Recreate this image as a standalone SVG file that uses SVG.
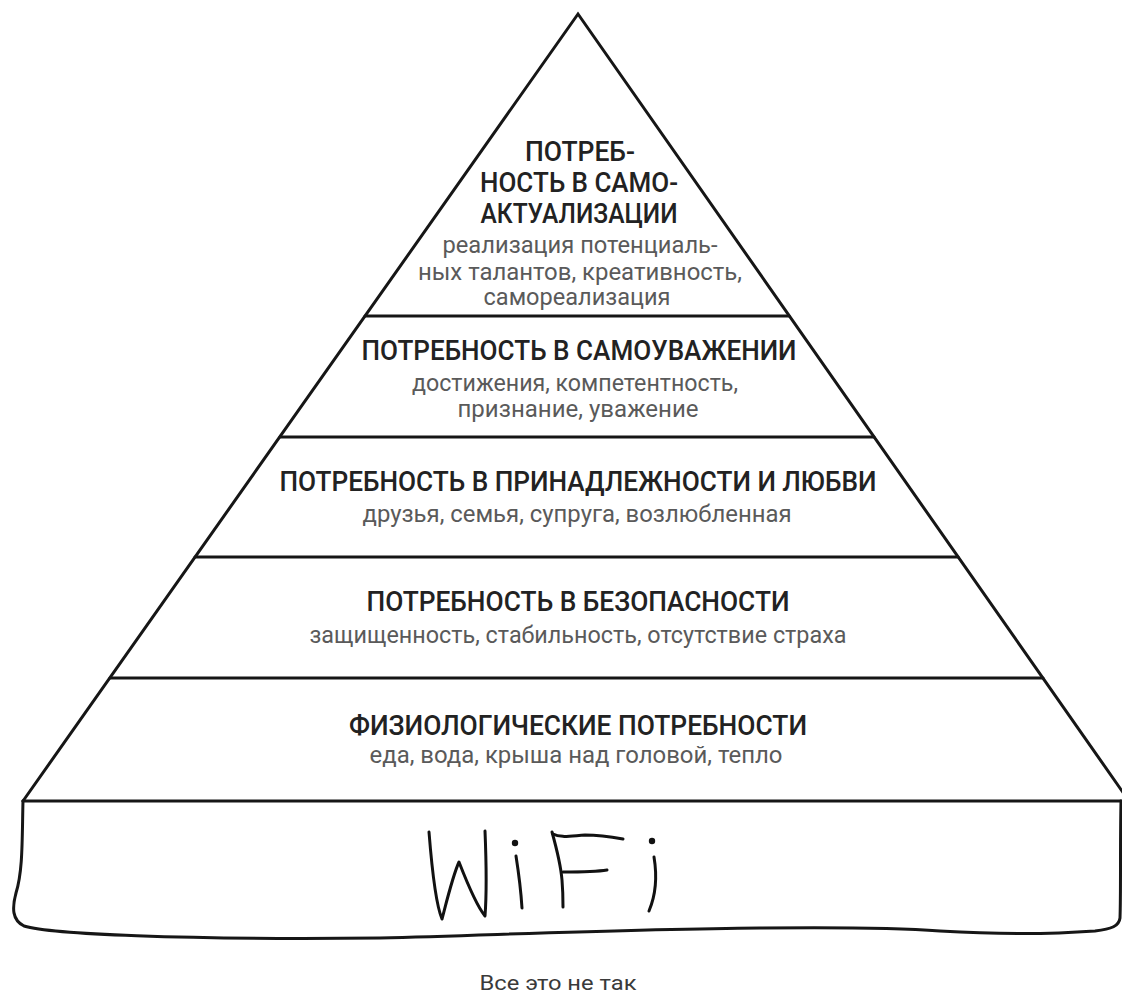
<svg xmlns="http://www.w3.org/2000/svg" width="1122" height="998" viewBox="0 0 1122 998">
  <style>
    .t { font-family: Roboto, "Liberation Sans", "DejaVu Sans", sans-serif; font-size: 28.5px; font-weight: 500; fill: #222222; text-anchor: middle; }
    .s { font-family: Roboto, "Liberation Sans", "DejaVu Sans", sans-serif; font-size: 23px; fill: #5a5a5a; text-anchor: middle; }
    .c { font-family: Roboto, "Liberation Sans", "DejaVu Sans", sans-serif; font-size: 21px; fill: #3a3a3a; text-anchor: middle; }
    .ln { stroke: #161616; stroke-width: 3; fill: none; stroke-linecap: round; }
    .hw { stroke: #111; stroke-width: 3; fill: none; stroke-linecap: round; stroke-linejoin: round; }
  </style>
  <rect width="1122" height="998" fill="#ffffff"/>

  <g id="connectors">
    <path class="ln" d="M 23 801 L 578 14 L 1129 801"/>
    <line class="ln" x1="365" y1="316" x2="789" y2="316"/>
    <line class="ln" x1="280" y1="437" x2="874" y2="437"/>
    <line class="ln" x1="195" y1="557" x2="958" y2="557"/>
    <line class="ln" x1="110" y1="678" x2="1043" y2="678"/>
    <line class="ln" x1="23" y1="801" x2="1121" y2="801"/>
  </g>

  <g id="level-self-actualization">
    <text class="t" x="580" y="161" textLength="110" lengthAdjust="spacingAndGlyphs">ПОТРЕБ-</text>
    <text class="t" x="579" y="192" textLength="198" lengthAdjust="spacingAndGlyphs">НОСТЬ В САМО-</text>
    <text class="t" x="579" y="223" textLength="197" lengthAdjust="spacingAndGlyphs">АКТУАЛИЗАЦИИ</text>
    <text class="s" x="580" y="253" textLength="275" lengthAdjust="spacingAndGlyphs">реализация потенциаль-</text>
    <text class="s" x="580" y="280" textLength="324" lengthAdjust="spacingAndGlyphs">ных талантов, креативность,</text>
    <text class="s" x="577" y="305" textLength="187" lengthAdjust="spacingAndGlyphs">самореализация</text>
  </g>

  <g id="level-esteem">
    <text class="t" x="579" y="360" textLength="435" lengthAdjust="spacingAndGlyphs">ПОТРЕБНОСТЬ В САМОУВАЖЕНИИ</text>
    <text class="s" x="575" y="391" textLength="326" lengthAdjust="spacingAndGlyphs">достижения, компетентность,</text>
    <text class="s" x="578" y="417" textLength="241" lengthAdjust="spacingAndGlyphs">признание, уважение</text>
  </g>

  <g id="level-love">
    <text class="t" x="578" y="491" textLength="597" lengthAdjust="spacingAndGlyphs">ПОТРЕБНОСТЬ В ПРИНАДЛЕЖНОСТИ И ЛЮБВИ</text>
    <text class="s" x="577" y="522" textLength="429" lengthAdjust="spacingAndGlyphs">друзья, семья, супруга, возлюбленная</text>
  </g>

  <g id="level-safety">
    <text class="t" x="578" y="611" textLength="423" lengthAdjust="spacingAndGlyphs">ПОТРЕБНОСТЬ В БЕЗОПАСНОСТИ</text>
    <text class="s" x="578" y="643" textLength="537" lengthAdjust="spacingAndGlyphs">защищенность, стабильность, отсутствие страха</text>
  </g>

  <g id="level-physiological">
    <text class="t" x="578" y="735" textLength="458" lengthAdjust="spacingAndGlyphs">ФИЗИОЛОГИЧЕСКИЕ ПОТРЕБНОСТИ</text>
    <text class="s" x="576" y="763" textLength="413" lengthAdjust="spacingAndGlyphs">еда, вода, крыша над головой, тепло</text>
  </g>

  <g id="level-wifi">
    <path class="ln" d="M 23 801 C 22 840, 23 870, 16 893 C 12 908, 12 920, 24 926 C 50 934, 180 940, 380 938 C 520 934, 640 929, 760 928 C 850 927, 900 928, 940 931 C 990 934, 1040 935, 1095 931 C 1112 929, 1119 926, 1120 918 C 1121 890, 1120 850, 1121 801"/>
    <path class="hw" d="M 429 832 C 432 870, 436 905, 442 919 C 447 900, 453 875, 459 862 C 466 880, 476 905, 485 916 C 487 890, 486 855, 485 831"/>
    <circle cx="515" cy="843" r="3.2" fill="#111"/>
    <path class="hw" d="M 516 856 C 519 875, 521 892, 522 908"/>
    <path class="hw" d="M 552 832 C 557 850, 561 868, 562 880 C 563 892, 563 900, 563 907"/>
    <path class="hw" d="M 553 834 C 560 838, 570 836, 585 835 C 600 835, 612 837, 623 839"/>
    <path class="hw" d="M 563 872 C 578 872, 595 872, 607 870"/>
    <circle cx="652" cy="841" r="3.2" fill="#111"/>
    <path class="hw" d="M 654 857 C 657 875, 657 892, 649 911"/>
  </g>

  <g id="caption">
    <text class="c" x="558" y="990" textLength="157" lengthAdjust="spacingAndGlyphs">Все это не так</text>
  </g>
</svg>
